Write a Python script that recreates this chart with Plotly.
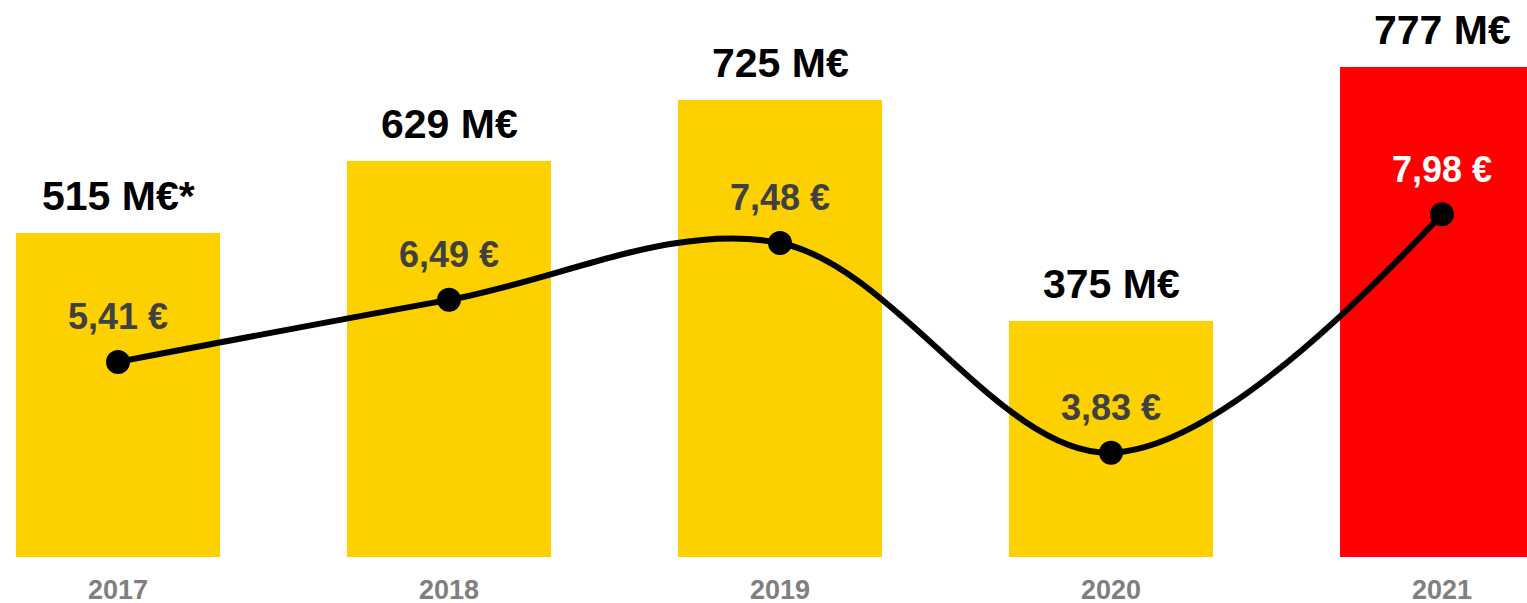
import plotly.graph_objects as go

years = ["2017", "2018", "2019", "2020", "2021"]
revenue = [515, 629, 725, 375, 777]
revenue_labels = ["515 M€*", "629 M€", "725 M€", "375 M€", "777 M€"]
eps = [5.41, 6.49, 7.48, 3.83, 7.98]
eps_labels = ["5,41 €", "6,49 €", "7,48 €", "3,83 €", "7,98 €"]
bar_colors = ["#FDD000", "#FDD000", "#FDD000", "#FDD000", "#FF0000"]
eps_label_colors = ["#404040", "#404040", "#404040", "#404040", "#FFFFFF"]

FONT = "Liberation Sans, Arial, sans-serif"

fig = go.Figure()
fig.add_trace(go.Bar(
    x=years, y=revenue, marker=dict(color=bar_colors, line=dict(width=0)),
    width=0.616, yaxis="y", hoverinfo="skip", showlegend=False,
))
fig.add_trace(go.Scatter(
    x=years, y=eps, yaxis="y2", mode="lines+markers",
    line=dict(color="#000000", width=6, shape="spline", smoothing=1),
    marker=dict(color="#000000", size=24),
    hoverinfo="skip", showlegend=False,
))

annotations = []
for i, (v, t) in enumerate(zip(revenue, revenue_labels)):
    annotations.append(dict(
        x=i, y=v, xref="x", yref="y", text=t, showarrow=False,
        yanchor="middle", yshift=37,
        font=dict(family=FONT, size=41, color="#000000", weight="bold"),
    ))
for i, (v, t, c) in enumerate(zip(eps, eps_labels, eps_label_colors)):
    annotations.append(dict(
        x=i, y=v, xref="x", yref="y2", text=t, showarrow=False,
        yanchor="middle", yshift=45,
        font=dict(family=FONT, size=36, color=c, weight="bold"),
    ))

fig.update_layout(
    width=1527, height=603,
    margin=dict(l=0, r=0, t=0, b=46),
    paper_bgcolor="white", plot_bgcolor="white",
    annotations=annotations,
    xaxis=dict(
        type="category", range=[-0.3565, 4.2568], automargin=False,
        showgrid=False, zeroline=False, showline=False, ticks="",
        tickfont=dict(family=FONT, size=27, color="#7F7F7F", weight="bold"),
        ticklabelstandoff=14,
    ),
    yaxis=dict(range=[0, 884], visible=False, showgrid=False, automargin=False),
    yaxis2=dict(range=[2.014, 11.709], overlaying="y", visible=False,
                showgrid=False, automargin=False),
    bargap=0,
)

fig.write_html(
    "out.html",
    config={"displayModeBar": False},
    post_script="document.body.style.margin='0';document.body.style.overflow='hidden';",
)
